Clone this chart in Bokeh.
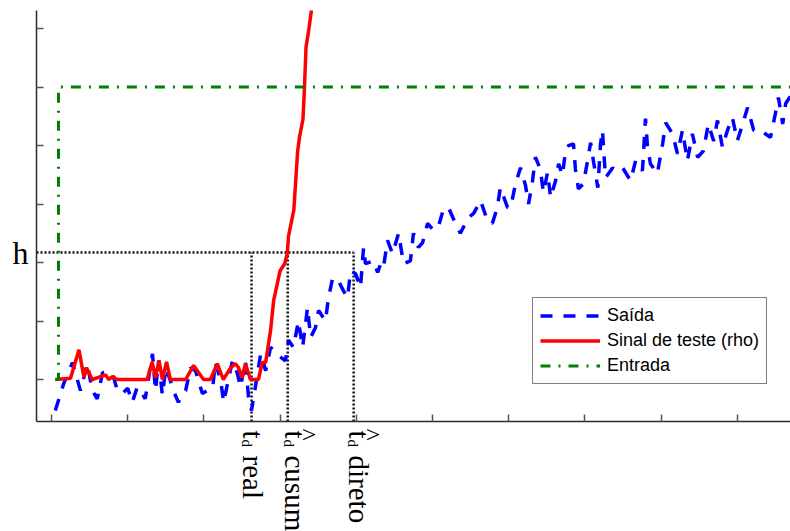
import math
from bokeh.plotting import figure
from bokeh.models import Range1d, FixedTicker, Label, Legend, LegendItem
from bokeh.layouts import column
from bokeh.embed import file_html
from bokeh.resources import INLINE

# ---------------- data ----------------
saida_x = [1.0, 3.2, 5.5, 7.6, 9.4, 10.7, 12.0, 13.4, 14.6, 16.0, 17.3, 18.6, 20.0, 21.2, 22.5,
           23.8, 24.6, 26.5, 27.3, 28.1, 29.1, 30.0, 31.2, 32.0, 33.3, 34.4, 35.2, 36.5, 37.8,
           39.6, 40.9, 42.3, 43.0, 44.4, 45.2, 46.5, 47.5, 48.8, 49.6, 50.9, 51.7, 52.5, 53.5,
           54.9, 56.2, 57.5, 59.6, 61.4, 62.2, 63.5, 64.8, 65.9, 67.2, 68.0, 69.3, 70.1, 71.9,
           72.7, 73.8, 75.3, 76.6, 77.7, 78.5, 79.8, 81.1, 81.9, 82.4, 84.5, 85.6, 86.4, 87.1,
           88.2, 89.5, 91.1, 92.4, 94.2, 95.0, 96.3, 97.4, 98.7, 100.3, 101.6, 102.9, 104.2,
           106.0, 107.3, 109.4, 110.8, 112.6, 114.4, 115.7, 117.0, 117.8, 119.7, 120.5, 121.8,
           123.1, 124.4, 125.2, 126.2, 127.0, 128.3, 129.1, 130.2, 131.0, 132.3, 133.1, 134.1,
           134.9, 135.7, 137.0, 137.5, 138.3, 139.6, 140.7, 141.5, 142.3, 143.4, 144.1, 144.6,
           145.4, 147.3, 148.0, 149.9, 152.0, 153.3, 155.1, 155.9, 156.4, 157.2, 159.0, 160.4,
           161.2, 163.0, 164.3, 165.6, 166.9, 168.2, 169.6, 171.1, 172.4, 173.8, 174.8, 176.1,
           177.4, 178.7, 180.0, 181.4, 182.7, 184.3, 186.1, 188.7, 190.0, 190.8, 191.9, 192.7,
           194.0]
saida_y = [-0.53, -0.07, 0.29, -0.19, 0.27, -0.19, -0.33, 0.12, 0.10, 0.10, -0.19, -0.24, -0.15,
           -0.39, -0.13, -0.24, -0.33, 0.44, -0.19, 0.32, -0.27, 0.20, -0.02, -0.19, -0.39, -0.24,
           -0.19, 0.20, 0.15, -0.24, -0.19, -0.15, 0.29, -0.02, -0.39, 0.03, 0.32, 0.10, -0.13,
           0.32, -0.30, -0.53, -0.13, 0.44, 0.15, 0.55, 0.41, 0.32, 0.67, 0.55, 1.00, 0.55, 1.23,
           0.72, 0.89, 1.18, 1.00, 1.40, 1.74, 1.69, 1.52, 1.40, 1.86, 1.81, 1.57, 2.26, 1.98,
           2.03, 1.83, 1.98, 1.91, 2.38, 2.15, 2.50, 1.98, 2.03, 2.50, 2.26, 2.34, 2.67, 2.55,
           2.63, 2.92, 2.94, 2.67, 2.50, 2.77, 2.84, 3.06, 2.72, 2.67, 2.94, 3.28, 2.94, 2.94,
           3.35, 3.62, 3.32, 3.00, 3.37, 3.80, 3.60, 3.20, 3.54, 3.11, 3.40, 3.69, 3.49, 3.91,
           4.00, 4.03, 3.60, 3.26, 3.35, 3.74, 4.05, 3.71, 3.28, 4.03, 4.26, 3.45, 3.62, 3.57,
           3.62, 3.40, 3.74, 3.57, 4.46, 4.00, 3.69, 3.52, 4.03, 4.39, 4.20, 3.86, 4.26, 3.74,
           4.20, 3.80, 3.91, 4.37, 4.08, 4.43, 3.97, 4.26, 4.48, 4.08, 4.37, 4.65, 4.26, 4.26,
           4.14, 4.55, 4.82, 4.37, 4.72, 4.85]

rho_x = [1.0, 5.0, 7.2, 8.5, 9.2, 10.7, 14.2, 15.0, 16.0, 17.2, 25.1, 26.4, 27.3, 28.2, 29.1,
         30.2, 31.2, 35.2, 37.3, 39.9, 41.7, 43.5, 45.1, 47.0, 48.3, 49.1, 50.0, 50.9, 52.2,
         54.3, 55.3, 56.2, 57.5, 58.3, 60.0, 61.2, 61.9, 62.2, 63.6, 64.6, 65.1, 66.0, 66.4,
         66.8, 67.5, 68.3, 69.0]
rho_y = [0.0, 0.02, 0.51, 0.04, 0.20, 0.0, 0.08, 0.0, 0.05, 0.0, 0.0, 0.30, 0.03, 0.33, 0.0,
         0.30, 0.0, 0.0, 0.24, 0.0, 0.0, 0.27, 0.0, 0.20, 0.27, 0.20, 0.03, 0.27, 0.0,
         0.0, 0.29, 0.29, 0.84, 1.35, 1.86, 1.98, 2.16, 2.45, 2.90, 3.90, 4.15, 4.45, 5.00,
         5.68, 5.97, 6.35, 6.80]

entrada_x = [1.0, 1.84, 1.84, 194.0]
entrada_y = [0.0, 0.0, 5.0, 5.0]

h_level = 2.17
h_text = "h"
td_values = [52.5, 62.0, 79.3]
td_words = ["real", "cusum", "direto"]
td_hat = [False, True, True]

series_names = ["Saída", "Sinal de teste (rho)", "Entrada"]
x_ticks = [0, 20, 40, 60, 80, 100, 120, 140, 160, 180]
y_ticks = [0, 1, 2, 3, 4, 5, 6]

X_START, X_END = -3.94, 193.96
Y_START, Y_END = -0.718, 6.31

# ---------------- main figure ----------------
W = 790
TOP_H = 425          # frame from y=10 to y=421 (+ tiny axis panel)
BOT_H = 531 - TOP_H  # strip holding the rotated t_d labels

x_range = Range1d(X_START, X_END)
p = figure(width=W, height=TOP_H, x_range=x_range, y_range=Range1d(Y_START, Y_END),
           output_backend="svg", toolbar_location=None,
           min_border_left=36, min_border_right=0, min_border_top=10, min_border_bottom=4)
p.outline_line_color = None
p.grid.visible = False
p.background_fill_color = "white"
p.border_fill_color = "white"

# x axis: ticks only
xa = p.xaxis[0]
xa.ticker = FixedTicker(ticks=x_ticks)
xa.major_label_overrides = {t: "" for t in x_ticks}
xa.major_label_text_font_size = "1px"
xa.major_label_standoff = 0
xa.major_tick_in = 7
xa.major_tick_out = 0
xa.minor_tick_line_color = None
xa.axis_line_color = "#2b2b2b"
xa.axis_line_width = 1.5
xa.major_tick_line_color = "#555555"
xa.major_tick_line_width = 1.5

# y axis: unlabeled ticks as minor ticks, single label "h" at the threshold
ya = p.yaxis[0]
ya.ticker = FixedTicker(ticks=[h_level], minor_ticks=y_ticks)
ya.major_label_overrides = {h_level: h_text}
ya.major_label_text_font = "Liberation Serif"
ya.major_label_text_font_size = "32px"
ya.major_label_text_color = "black"
ya.major_label_standoff = 8
ya.major_tick_in = 0
ya.major_tick_out = 0
ya.major_tick_line_color = None
ya.minor_tick_in = 7
ya.minor_tick_out = 0
ya.minor_tick_line_color = "#555555"
ya.minor_tick_line_width = 1.5
ya.axis_line_color = "#2b2b2b"
ya.axis_line_width = 1.5

# dotted guide lines
p.segment(x0=td_values, y0=[Y_START] * len(td_values), x1=td_values, y1=[h_level] * len(td_values),
          line_color="#111111", line_width=2.5, line_dash="2 2")
p.segment(x0=[X_START], y0=[h_level], x1=[td_values[-1]], y1=[h_level],
          line_color="#111111", line_width=2.5, line_dash="2 2")

r_saida = p.line(saida_x, saida_y, line_color="#0000ff", line_width=3.5, line_dash="12 11")
r_rho = p.line(rho_x, rho_y, line_color="#ff0000", line_width=3.5)
r_ent = p.line(entrada_x, entrada_y, line_color="#008000", line_width=3, line_dash="10 8 2 8")

legend = Legend(items=[LegendItem(label=series_names[0], renderers=[r_saida]),
                       LegendItem(label=series_names[1], renderers=[r_rho]),
                       LegendItem(label=series_names[2], renderers=[r_ent])],
                location=(496, 37), orientation="vertical",
                padding=7, spacing=4, label_height=21, glyph_height=21, glyph_width=60,
                label_standoff=7, margin=0,
                label_text_font="Liberation Sans", label_text_font_size="18px",
                label_text_color="black",
                border_line_color="black", border_line_width=1,
                background_fill_color="white", background_fill_alpha=1.0)
p.add_layout(legend, "center")

# ---------------- label strip under the x axis ----------------
q = figure(width=W, height=BOT_H, x_range=x_range, y_range=Range1d(0, 1),
           output_backend="svg", toolbar_location=None, x_axis_type=None, y_axis_type=None,
           min_border_left=36, min_border_right=0, min_border_top=0, min_border_bottom=0)
q.outline_line_color = None
q.grid.visible = False
q.background_fill_color = "white"
q.border_fill_color = "white"

PAGE_BOTTOM = 531


def sy(page_y):
    return PAGE_BOTTOM - page_y


base_off = [1, 7, 5]
ang = -math.pi / 2
for td, word, hat, off in zip(td_values, td_words, td_hat, base_off):
    common = dict(x=td, x_units="data", y_units="screen", angle=ang, text_align="left",
                  text_baseline="alphabetic", text_font="Liberation Serif", text_color="black")
    q.add_layout(Label(y=sy(430), x_offset=off, text="t", text_font_size="29px", **common))
    q.add_layout(Label(y=sy(439), x_offset=off - 6, text="d", text_font_size="15px", **common))
    if hat:
        q.add_layout(Label(y=sy(428), x_offset=off + 12, text="^", text_font_size="26px", **common))
    q.add_layout(Label(y=sy(455), x_offset=off, text=word, text_font_size="29px", **common))

layout = column(p, q, spacing=0)
open("out.html", "w").write(file_html(layout, INLINE))
